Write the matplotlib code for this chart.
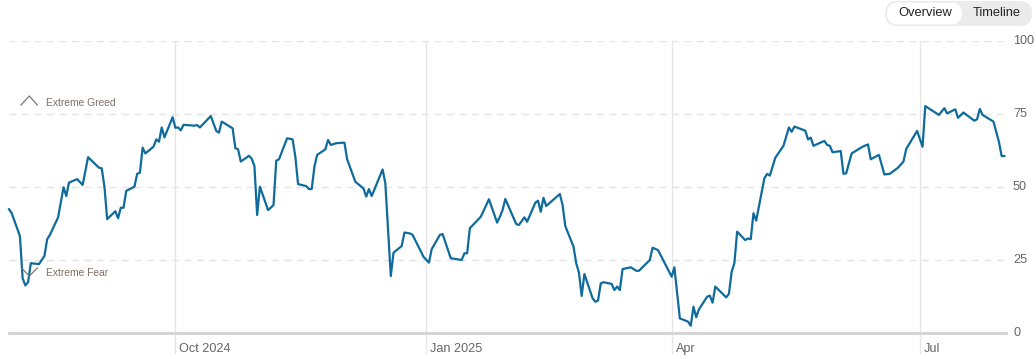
import matplotlib
matplotlib.use("Agg")
import matplotlib.pyplot as plt
import matplotlib.dates as mdates
import matplotlib.transforms as mtransforms
from matplotlib.patches import FancyBboxPatch
import pandas as pd

plt.rcParams['font.family'] = ['Liberation Sans', 'DejaVu Sans']

# ---------------- data ----------------
dates = [
    "2024-08-01", "2024-08-02", "2024-08-05", "2024-08-06", "2024-08-07", "2024-08-08", "2024-08-09",
    "2024-08-12", "2024-08-14", "2024-08-15", "2024-08-16", "2024-08-19", "2024-08-21", "2024-08-22",
    "2024-08-23", "2024-08-26", "2024-08-28", "2024-08-30", "2024-09-03", "2024-09-04", "2024-09-05",
    "2024-09-06", "2024-09-09", "2024-09-10", "2024-09-11", "2024-09-12", "2024-09-13", "2024-09-16",
    "2024-09-17", "2024-09-18", "2024-09-19", "2024-09-20", "2024-09-23", "2024-09-24", "2024-09-25",
    "2024-09-26", "2024-09-27", "2024-09-30", "2024-10-01", "2024-10-02", "2024-10-03", "2024-10-04",
    "2024-10-08", "2024-10-09", "2024-10-10", "2024-10-14", "2024-10-16", "2024-10-17", "2024-10-18",
    "2024-10-22", "2024-10-23", "2024-10-24", "2024-10-25", "2024-10-28", "2024-10-29", "2024-10-30",
    "2024-10-31", "2024-11-01", "2024-11-04", "2024-11-06", "2024-11-07", "2024-11-08", "2024-11-11",
    "2024-11-13", "2024-11-14", "2024-11-15", "2024-11-18", "2024-11-19", "2024-11-20", "2024-11-21",
    "2024-11-22", "2024-11-25", "2024-11-26", "2024-11-27", "2024-11-29", "2024-12-02", "2024-12-03",
    "2024-12-06", "2024-12-09", "2024-12-10", "2024-12-11", "2024-12-12", "2024-12-16", "2024-12-17",
    "2024-12-19", "2024-12-20", "2024-12-23", "2024-12-24", "2024-12-26", "2024-12-27", "2024-12-31",
    "2025-01-02", "2025-01-03", "2025-01-06", "2025-01-07", "2025-01-10", "2025-01-14", "2025-01-15",
    "2025-01-16", "2025-01-17", "2025-01-21", "2025-01-24", "2025-01-27", "2025-01-28", "2025-01-29",
    "2025-01-30", "2025-02-03", "2025-02-04", "2025-02-06", "2025-02-07", "2025-02-10", "2025-02-11",
    "2025-02-12", "2025-02-13", "2025-02-14", "2025-02-19", "2025-02-20", "2025-02-21", "2025-02-24",
    "2025-02-25", "2025-02-26", "2025-02-27", "2025-02-28", "2025-03-03", "2025-03-04", "2025-03-05",
    "2025-03-06", "2025-03-07", "2025-03-10", "2025-03-11", "2025-03-12", "2025-03-13", "2025-03-14",
    "2025-03-17", "2025-03-19", "2025-03-20", "2025-03-24", "2025-03-25", "2025-03-27", "2025-04-01",
    "2025-04-02", "2025-04-04", "2025-04-07", "2025-04-08", "2025-04-09", "2025-04-10", "2025-04-11",
    "2025-04-14", "2025-04-15", "2025-04-16", "2025-04-17", "2025-04-21", "2025-04-22", "2025-04-23",
    "2025-04-24", "2025-04-25", "2025-04-28", "2025-04-29", "2025-04-30", "2025-05-01", "2025-05-02",
    "2025-05-05", "2025-05-06", "2025-05-07", "2025-05-09", "2025-05-12", "2025-05-14", "2025-05-15",
    "2025-05-16", "2025-05-20", "2025-05-21", "2025-05-22", "2025-05-23", "2025-05-27", "2025-05-28",
    "2025-05-29", "2025-05-30", "2025-06-02", "2025-06-03", "2025-06-04", "2025-06-06", "2025-06-10",
    "2025-06-12", "2025-06-13", "2025-06-16", "2025-06-18", "2025-06-20", "2025-06-23", "2025-06-25",
    "2025-06-26", "2025-06-30", "2025-07-02", "2025-07-03", "2025-07-08", "2025-07-10", "2025-07-11",
    "2025-07-14", "2025-07-15", "2025-07-17", "2025-07-21", "2025-07-22", "2025-07-23", "2025-07-24",
    "2025-07-28", "2025-07-30", "2025-07-31", "2025-08-01",
]
values = [
    42.4, 41.0, 33.2, 18.7, 16.3, 17.4, 23.9,
    23.6, 26.4, 32.1, 33.6, 39.6, 49.9, 46.9,
    51.5, 52.7, 50.7, 60.2, 56.6, 56.4, 50.1,
    39.0, 41.7, 39.3, 42.9, 42.9, 48.7, 50.1,
    54.5, 54.9, 63.5, 61.5, 63.8, 66.3, 65.5,
    70.4, 67.0, 73.9, 70.3, 70.4, 69.4, 71.3,
    71.0, 71.2, 70.4, 74.3, 69.2, 68.6, 72.4,
    70.1, 63.3, 62.9, 58.7, 60.7, 59.7, 57.2,
    40.4, 50.1, 42.1, 43.8, 59.0, 59.5, 66.7,
    66.3, 60.4, 51.0, 50.3, 49.3, 49.3, 57.0,
    61.0, 62.9, 66.1, 64.4, 65.0, 65.2, 59.5,
    51.8, 49.5, 46.7, 49.3, 46.9, 56.0, 51.3,
    19.5, 27.5, 29.8, 34.4, 34.1, 33.6, 26.1,
    24.1, 28.7, 33.6, 33.9, 25.6, 25.0, 27.3,
    27.3, 35.9, 39.8, 45.8, 37.8, 39.8, 42.1,
    45.9, 37.3, 37.0, 39.6, 38.1, 44.6, 45.3,
    41.5, 46.3, 43.5, 47.6, 43.8, 36.6, 29.6,
    23.9, 20.7, 12.7, 20.2, 11.9, 10.7, 11.1,
    17.0, 17.4, 16.8, 14.7, 15.9, 14.7, 21.9,
    22.5, 21.3, 21.3, 25.0, 29.2, 28.4, 19.3,
    22.5, 5.0, 3.9, 2.5, 9.0, 5.4, 8.1,
    12.4, 12.8, 10.4, 15.9, 12.2, 13.4, 21.0,
    23.9, 34.7, 31.8, 32.4, 32.1, 41.0, 38.5,
    53.0, 54.5, 53.9, 60.0, 64.1, 70.4, 68.9,
    70.7, 69.3, 66.3, 66.9, 64.1, 65.8, 64.4,
    64.1, 61.9, 62.3, 54.5, 54.7, 61.5, 63.8,
    64.6, 59.5, 61.0, 54.3, 54.5, 56.6, 58.7,
    63.0, 69.2, 63.8, 77.7, 74.7, 77.0, 75.2,
    76.6, 73.7, 75.5, 72.7, 73.2, 76.7, 74.7,
    72.4, 65.5, 60.6, 60.6,
]
y_ticks = [0, 25, 50, 75, 100]
month_ticks = ["2024-10-01", "2025-01-01", "2025-04-01", "2025-07-01"]
month_labels = ["Oct 2024", "Jan 2025", "Apr", "Jul"]
zone_labels = ["Extreme Greed", "Extreme Fear"]
toggle_labels = ["Overview", "Timeline"]

# ---------------- layout ----------------
W, H = 1036, 359
fig = plt.figure(figsize=(W / 100, H / 100), dpi=100)
fig.patch.set_facecolor("white")

# overlay in pixel coordinates (for decorations)
ov = fig.add_axes([0, 0, 1, 1], zorder=5)
ov.set_xlim(0, W)
ov.set_ylim(H, 0)
ov.axis("off")
ov.patch.set_visible(False)

ax_l, ax_r, ax_t, ax_b = 9, 1006, 41, 333
ax = fig.add_axes([ax_l / W, (H - ax_b) / H, (ax_r - ax_l) / W, (ax_b - ax_t) / H])
ax.set_facecolor("none")

x = pd.to_datetime(dates)
start = mdates.date2num(pd.Timestamp("2024-08-01"))
px_per_day = 2.727
ax.set_xlim(start, start + (ax_r - ax_l) / px_per_day)
ax.set_ylim(0, 100)
for s in ax.spines.values():
    s.set_visible(False)
ax.set_xticks([])
ax.set_yticks([])

grid_end = (1003 - ax_l) / (ax_r - ax_l)
for v in y_ticks[1:]:
    ax.axhline(v, xmin=0, xmax=grid_end, color="#e4e4e4", lw=1.0,
               dashes=(5, 4), zorder=1)
ax.axhline(0, xmin=0, xmax=1, color="#d3d3d3", lw=2.0, zorder=1, clip_on=False)

# month separators + labels
for d, lab in zip(month_ticks, month_labels):
    xd = mdates.date2num(pd.Timestamp(d))
    ax.axvline(xd, ymin=-(353 - ax_b) / (ax_b - ax_t), ymax=1.0, color="#e6e6e6",
               lw=1.0, zorder=0, clip_on=False)
    tr = mtransforms.blended_transform_factory(ax.transData, ax.transAxes) + \
        mtransforms.ScaledTranslation(4 / 100, 0, fig.dpi_scale_trans)
    ax.text(xd, -(349 - ax_b) / (ax_b - ax_t), lab, transform=tr, ha="left",
            va="center", fontsize=9.1, color="#666666")

# right y labels
ytr = mtransforms.blended_transform_factory(fig.transFigure, ax.transData)
for v in y_ticks:
    ax.text(1013 / W, v, str(v), transform=ytr, ha="left", va="center",
            fontsize=9.1, color="#666666", clip_on=False)

# series line
ax.plot(x, values, color="#0f6b9c", lw=1.6, solid_joinstyle="round", zorder=3,
        clip_on=False)

# zone annotations (chevrons + labels)
ov.plot([21, 29.3, 37.3], [105, 96, 105], color="#777777", lw=0.9)
ov.text(45.5, 102.5, zone_labels[0], ha="left", va="center",
        fontsize=7.4, color="#7f7068")
ov.plot([21.5, 29.3, 37.3], [268, 276, 268], color="#777777", lw=0.9)
ov.text(45.5, 273.5, zone_labels[1], ha="left", va="center",
        fontsize=7.4, color="#7f7068")

# toggle
ov.add_patch(FancyBboxPatch((885, 1), 147, 25,
                            boxstyle="round,pad=0,rounding_size=12.5",
                            facecolor="#ebebeb", edgecolor="none"))
ov.add_patch(FancyBboxPatch((887, 2.5), 75, 22,
                            boxstyle="round,pad=0,rounding_size=11",
                            facecolor="white", edgecolor="none"))
ov.text(925, 13.5, toggle_labels[0], ha="center", va="center",
        fontsize=9.3, color="#222222")
ov.text(997, 13.5, toggle_labels[1], ha="center", va="center",
        fontsize=9.3, color="#222222")

fig.savefig("out.png", dpi=100, facecolor="white")
